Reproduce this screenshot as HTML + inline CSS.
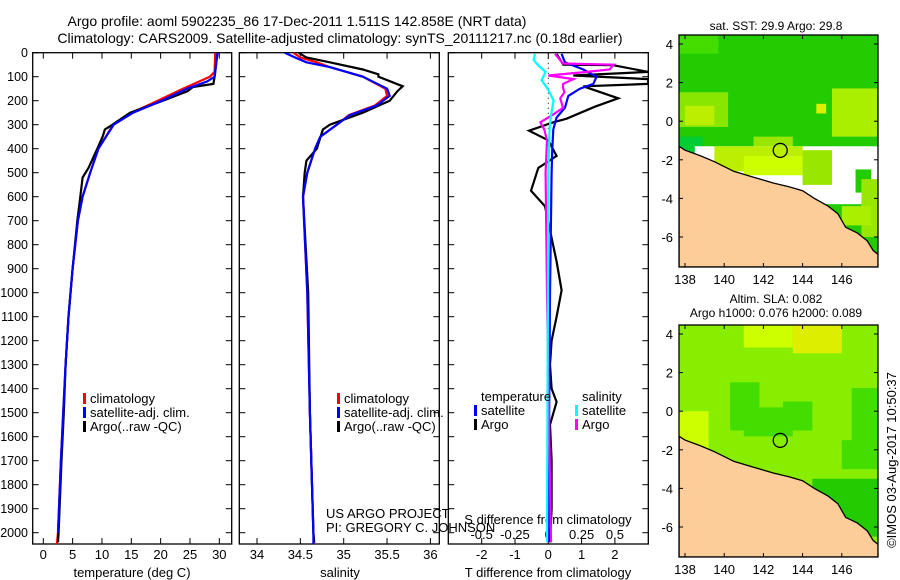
<!DOCTYPE html>
<html><head><meta charset="utf-8">
<style>
html,body{margin:0;padding:0;background:#fff;}
svg{display:block;font-family:"Liberation Sans",sans-serif;}
text{fill:#000;}
</style></head>
<body>
<svg id="c" width="900" height="580" viewBox="0 0 900 580" xmlns="http://www.w3.org/2000/svg">
<text x="297" y="26" font-size="14" text-anchor="middle">Argo profile: aoml 5902235_86 17-Dec-2011 1.511S 142.858E (NRT data)</text>
<text x="340" y="43" font-size="14" text-anchor="middle">Climatology: CARS2009. Satellite-adjusted climatology: synTS_20111217.nc (0.18d earlier)</text>
<g id="g"></g>
<text transform="translate(896,460) rotate(-90)" font-size="13" text-anchor="middle">©IMOS 03-Aug-2017 10:50:37</text>
</svg>
<script>
// ---- data ----
const depthClimT = [0, 80, 100, 150, 200, 250, 300, 400, 500, 600, 700, 900, 1100, 1300, 1500, 1700, 2000, 2050];
const tempClim = [29.3, 29.2, 28.4, 23.8, 19.5, 15.1, 11.9, 9.4, 8.0, 6.7, 5.9, 5.0, 4.3, 3.8, 3.4, 3.0, 2.5, 2.3];
const depthSatT = [0, 100, 120, 150, 200, 250, 300, 400, 500, 600, 700, 900, 1100, 1300, 1500, 1700, 2000];
const tempSat = [29.7, 29.2, 27.9, 24.5, 20.2, 15.3, 12.0, 9.4, 8.0, 6.7, 5.9, 5.0, 4.3, 3.8, 3.4, 3.0, 2.5];
const depthArgoT = [0, 100, 130, 143, 160, 200, 250, 300, 320, 350, 400, 480, 520, 600, 700, 900, 1100, 1300, 1500, 1700, 2000, 2040];
const tempArgo = [29.7, 29.2, 29.0, 25.5, 24.6, 20.4, 14.8, 11.8, 10.5, 10.1, 9.2, 7.7, 6.7, 6.3, 5.8, 5.0, 4.3, 3.8, 3.5, 3.1, 2.6, 2.5];

const depthS = [0, 20, 40, 60, 100, 150, 180, 220, 260, 300, 350, 400, 500, 600, 1000, 1500, 2000, 2050];
const salClim = [34.42, 34.50, 34.69, 34.84, 35.22, 35.48, 35.50, 35.36, 35.06, 34.92, 34.73, 34.67, 34.58, 34.53, 34.58, 34.61, 34.65, 34.66];
const salSat = [34.32, 34.44, 34.57, 34.84, 35.22, 35.50, 35.53, 35.38, 35.07, 34.92, 34.73, 34.67, 34.58, 34.53, 34.58, 34.61, 34.65, 34.65];
const depthArgoS = [0, 20, 40, 70, 90, 100, 140, 160, 200, 250, 300, 320, 400, 450, 500, 600, 1000, 1500, 2000, 2040];
const salArgo = [34.48, 34.57, 34.84, 35.22, 35.40, 35.40, 35.68, 35.62, 35.53, 35.22, 34.84, 34.76, 34.69, 34.57, 34.55, 34.53, 34.59, 34.61, 34.65, 34.66];

const depthDT = [5, 50, 52, 80, 95, 110, 130, 140, 190, 225, 275, 290, 325, 365, 430, 480, 575, 640, 740, 870, 990, 1100, 1200, 1300, 1400, 1455, 1550, 1700, 1900, 2040];
const dTArgo = [0.25, 0.45, 1.95, 3.0, 0.75, 3.0, 3.0, 1.05, 2.1, 1.4, 0.55, 0.15, -0.58, 0.0, 0.25, -0.3, -0.52, -0.1, 0.05, 0.25, 0.4, 0.25, 0.1, 0.05, 0.1, 0.25, 0.05, 0.1, 0.1, 0.05];
const depthDTs = [5, 40, 70, 100, 130, 150, 180, 230, 270, 320, 400, 500, 1000, 2040];
const dTSat = [0.4, 0.5, 1.05, 1.45, 1.35, 0.95, 0.6, 0.5, 0.25, 0.15, 0.12, 0.1, 0.05, 0.0];
const depthDS = [5, 45, 50, 70, 80, 95, 110, 130, 145, 165, 190, 230, 260, 290, 320, 365, 500, 1000, 2040];
const dSArgo = [0.05, 0.11, 0.49, 0.46, 0.29, 0.0, 0.19, 0.11, 0.11, 0.12, 0.09, 0.11, 0.03, -0.06, -0.03, -0.01, -0.02, -0.01, 0.02];
const depthDSs = [5, 30, 50, 80, 115, 155, 200, 260, 320, 500, 2040];
const dSSat = [-0.1, -0.11, -0.08, -0.02, -0.05, 0.0, 0.04, 0.02, 0.01, 0.0, -0.01];

const depthTicks = [0,100,200,300,400,500,600,700,800,900,1000,1100,1200,1300,1400,1500,1600,1700,1800,1900,2000];
const tempTicks = [0,5,10,15,20,25,30];
const salTicks = [34,34.5,35,35.5,36];
const dTTicks = [-2,-1,0,1,2];
const dSTicks = ["-0.5","-0.25","0","0.25","0.5"];
const latTicks = [4,2,0,-2,-4,-6];
const lonTicks = [138,140,142,144,146];
const coastLon = [137.7, 138.0, 138.8, 139.5, 140.5, 141.5, 142.5, 143.3, 144.0, 144.6, 145.3, 145.8, 146.2, 146.8, 147.3, 147.6, 147.85];
const coastLat = [-1.3, -1.5, -1.8, -2.1, -2.6, -2.9, -3.2, -3.4, -3.6, -4.0, -4.4, -4.8, -5.5, -5.8, -6.2, -6.7, -6.9];

// ---- helpers ----
const NS = "http://www.w3.org/2000/svg";
const G = document.getElementById('g');
function mk(tag, attrs, parent) {
  const e = document.createElementNS(NS, tag);
  for (const k in attrs) e.setAttribute(k, attrs[k]);
  (parent || G).appendChild(e);
  return e;
}
const TOP = 52.7, BOT = 544, DPX = 0.24;
const yD = d => TOP + d * DPX;
const xT = t => 43.3 + t * 5.867;
const xS = s => 257 + (s - 34) * 86.7;
const xDT = t => 548.3 + t * 33.3;
const xDS = s => 548.3 + s * 133.3;

function panel(x0, x1, name) {
  const r = mk('rect', {x: x0, y: TOP, width: x1 - x0, height: BOT - TOP, fill: 'none', stroke: '#000', 'stroke-width': 1.3});
  
  
  depthTicks.forEach(d => {
    const y = yD(d);
    mk('line', {x1: x0, x2: x0 + 6, y1: y, y2: y, stroke: '#000'});
    mk('line', {x1: x1 - 6, x2: x1, y1: y, y2: y, stroke: '#000'});
  });
}
function clipId(x0, x1, id) {
  const cp = mk('clipPath', {id: id});
  mk('rect', {x: x0, y: TOP, width: x1 - x0, height: BOT - TOP}, cp);
}
function line(xs, ds, fx, color, name, clip, w) {
  let d = '';
  xs.forEach((v, i) => { d += (i ? 'L' : 'M') + fx(v).toFixed(1) + ',' + yD(ds[i]).toFixed(1); });
  const p = mk('path', {d: d, fill: 'none', stroke: color, 'stroke-width': w || 2.2, 'clip-path': 'url(#' + clip + ')'});
  
  
}
function txt(x, y, s, name, anchor, size) {
  const t = mk('text', {x: x, y: y, 'font-size': size || 13, 'text-anchor': anchor || 'start'});
  t.textContent = s;
  
  
  return t;
}
function legBar(x, y, color) {
  mk('rect', {x: x, y: y - 10, width: 3, height: 11, fill: color});
}

// depth axis labels
depthTicks.forEach(d => {
  const t = txt(28, yD(d) + 4.5, String(d), 'depth-tick-label', 'end', 12.5);
});

// panel 1
clipId(32.7, 231.7, 'c1');
panel(32.7, 231.7, 'temperature-panel');
tempTicks.forEach(t => {
  mk('line', {x1: xT(t), x2: xT(t), y1: TOP, y2: TOP + 6, stroke: '#000'});
  mk('line', {x1: xT(t), x2: xT(t), y1: BOT - 6, y2: BOT, stroke: '#000'});
  txt(xT(t), 559, String(t), 'temp-tick-label', 'middle');
});
txt(132, 577, 'temperature (deg C)', 'temperature-axis-title', 'middle');
line(tempClim, depthClimT, xT, '#f00', 'temp-climatology-line', 'c1');
line(tempArgo, depthArgoT, xT, '#000', 'temp-argo-line', 'c1');
line(tempSat, depthSatT, xT, '#00f', 'temp-satellite-line', 'c1');
legBar(83, 403, '#f00'); txt(90, 403, 'climatology', 'legend-climatology');
legBar(83, 417, '#00f'); txt(90, 417, 'satellite-adj. clim.', 'legend-satellite');
legBar(83, 431, '#000'); txt(90, 431, 'Argo(..raw -QC)', 'legend-argo');

// panel 2
clipId(239.3, 439.3, 'c2');
panel(239.3, 439.3, 'salinity-panel');
salTicks.forEach(s => {
  mk('line', {x1: xS(s), x2: xS(s), y1: TOP, y2: TOP + 6, stroke: '#000'});
  mk('line', {x1: xS(s), x2: xS(s), y1: BOT - 6, y2: BOT, stroke: '#000'});
  txt(xS(s), 559, String(s), 'salinity-tick-label', 'middle');
});
txt(340, 577, 'salinity', 'salinity-axis-title', 'middle');
line(salClim, depthS, xS, '#f00', 'sal-climatology-line', 'c2');
line(salArgo, depthArgoS, xS, '#000', 'sal-argo-line', 'c2');
line(salSat, depthS, xS, '#00f', 'sal-satellite-line', 'c2');
legBar(337, 403, '#f00'); txt(344, 403, 'climatology', 'legend-climatology');
legBar(337, 417, '#00f'); txt(344, 417, 'satellite-adj. clim.', 'legend-satellite');
legBar(337, 431, '#000'); txt(344, 431, 'Argo(..raw -QC)', 'legend-argo');
txt(326, 518, 'US ARGO PROJECT', 'project-label');
txt(326, 532, 'PI: GREGORY C. JOHNSON', 'pi-label');

// panel 3
clipId(448.3, 648.3, 'c3');
panel(448.3, 648.3, 'difference-panel');
dTTicks.forEach(t => {
  mk('line', {x1: xDT(t), x2: xDT(t), y1: TOP, y2: TOP + 6, stroke: '#000'});
  mk('line', {x1: xDT(t), x2: xDT(t), y1: BOT - 6, y2: BOT, stroke: '#000'});
  txt(xDT(t), 559, String(t), 'tdiff-tick-label', 'middle');
});
dSTicks.forEach(s => { txt(xDS(parseFloat(s)), 539, s, 'sdiff-tick-label', 'middle'); });
txt(548, 524, 'S difference from climatology', 'sdiff-axis-title', 'middle');
txt(548, 577, 'T difference from climatology', 'tdiff-axis-title', 'middle');
mk('line', {x1: xDT(0), x2: xDT(0), y1: TOP, y2: yD(320), stroke: '#000', 'stroke-dasharray': '1,4'});
line(dTArgo, depthDT, xDT, '#000', 'tdiff-argo-line', 'c3');
line(dTSat, depthDTs, xDT, '#00f', 'tdiff-satellite-line', 'c3');
line(dSArgo, depthDS, xDS, '#f0f', 'sdiff-argo-line', 'c3');
line(dSSat, depthDSs, xDS, '#0ff', 'sdiff-satellite-line', 'c3');
txt(481, 401, 'temperature', 'legend-temperature-header');
legBar(474, 415, '#00f'); txt(481, 415, 'satellite', 'legend-t-satellite');
legBar(474, 429, '#000'); txt(481, 429, 'Argo', 'legend-t-argo');
txt(582, 401, 'salinity', 'legend-salinity-header');
legBar(575, 415, '#0ff'); txt(582, 415, 'satellite', 'legend-s-satellite');
legBar(575, 429, '#f0f'); txt(582, 429, 'Argo', 'legend-s-argo');

// maps
function map(y0, y1, name, base, patches, title) {
  const x0 = 679, x1 = 878;
  const lonX = l => 685 + (l - 138) * 19.6;
  const latY = la => (y0 + 9) + (4 - la) * 19.3;
  const id = 'm' + y0;
  const cp = mk('clipPath', {id: id});
  mk('rect', {x: x0, y: y0, width: x1 - x0, height: y1 - y0}, cp);
  const g = mk('g', {'clip-path': 'url(#' + id + ')'});
  mk('rect', {x: x0, y: y0, width: x1 - x0, height: y1 - y0, fill: base}, g);
  patches.forEach(p => mk('rect', {x: lonX(p[0]), y: latY(p[1]), width: p[2] * 19.6, height: p[3] * 19.3, fill: p[4]}, g));
  let d = 'M' + x0 + ',' + y1;
  coastLon.forEach((l, i) => { d += 'L' + lonX(l).toFixed(1) + ',' + latY(coastLat[i]).toFixed(1); });
  d += 'L' + x1 + ',' + y1 + 'Z';
  const land = mk('path', {d: d, fill: '#fccc99', stroke: '#000', 'stroke-width': 1.3}, g);
  
  
  const c = mk('circle', {cx: lonX(142.858), cy: latY(-1.511), r: 7, fill: 'none', stroke: '#000', 'stroke-width': 1.3}, g);
  
  
  const r = mk('rect', {x: x0, y: y0, width: x1 - x0, height: y1 - y0, fill: 'none', stroke: '#000', 'stroke-width': 1.3});
  
  
  latTicks.forEach(la => {
    mk('line', {x1: x0, x2: x0 + 4, y1: latY(la), y2: latY(la), stroke: '#000'});
    mk('line', {x1: x1 - 4, x2: x1, y1: latY(la), y2: latY(la), stroke: '#000'});
    txt(673, latY(la) + 5, String(la), 'lat-tick-label', 'end', 13);
  });
  lonTicks.forEach(l => {
    mk('line', {x1: lonX(l), x2: lonX(l), y1: y0, y2: y0 + 4, stroke: '#000'});
    mk('line', {x1: lonX(l), x2: lonX(l), y1: y1 - 4, y2: y1, stroke: '#000'});
    txt(lonX(l), y1 + 17, String(l), 'lon-tick-label', 'middle', 13);
  });
}
map(35, 267, 'sst-map', '#22cc00', [
  [137.7, 4.5, 2, 1, '#44dd00'], [137.7, 1.5, 2.5, 1.8, '#88e600'], [138, 0.8, 1.5, 1, '#bbee00'],
  [141.5, -0.8, 2, 1, '#99e600'], [144.7, 0.9, 0.5, 0.5, '#ddee00'], [145.5, 1.7, 2.3, 2.5, '#aaee00'],
  [137.7, -0.8, 1.2, 1.6, '#00cc33'], [138.5, -1.3, 9.5, 3, '#ffffff'], [139.5, -1.3, 4.5, 1.3, '#bbee00'],
  [141, -1.8, 3.5, 1.0, '#ccff00'], [144, -1.5, 1.5, 1.8, '#99e600'], [146.7, -2.5, 0.8, 1.2, '#22cc00'],
  [147, -3, 0.9, 3, '#99e600'], [146, -4.4, 1.5, 1, '#aaee00'], [137.7, 4.5, 0.1, 0.1, '#22cc00']
], 'sst');
txt(776, 30, 'sat. SST: 29.9 Argo: 29.8', 'sst-map-title', 'middle', 12);
map(325, 557, 'sla-map', '#88ee00', [
  [143.5, 4.5, 2.5, 1.5, '#ddee00'], [141, 4.5, 2.5, 1.2, '#ccff00'], [137.7, 0, 1.5, 2, '#ccff00'],
  [140.3, 1.5, 1.5, 2.5, '#44dd00'], [141, 0.2, 2.5, 1.5, '#44dd00'], [143, 0.5, 1.5, 1.5, '#44dd00'],
  [146.5, 1.2, 1.3, 4, '#44dd00'], [144.5, -3.5, 3.4, 3, '#22cc00'], [146, -1.5, 1.8, 1.5, '#44dd00']
], 'sla');
txt(776, 303, 'Altim. SLA: 0.082', 'sla-map-title-1', 'middle', 12);
txt(776, 317, 'Argo h1000: 0.076 h2000: 0.089', 'sla-map-title-2', 'middle', 12);
</script>
</body></html>
